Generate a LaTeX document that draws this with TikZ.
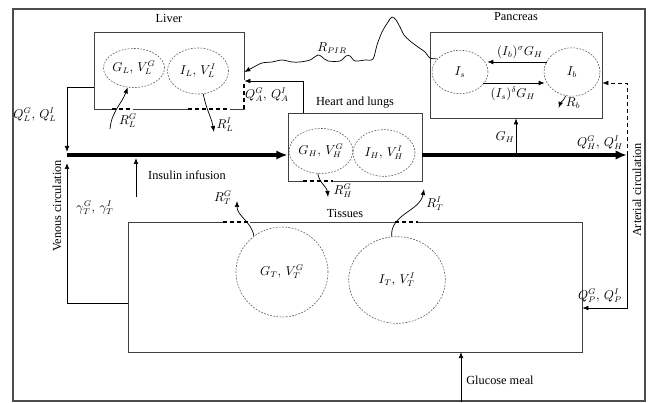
\documentclass[tikz,border=0pt]{standalone}
\usepackage{fontspec}
\setmainfont{Liberation Serif}
\usetikzlibrary{arrows.meta, positioning, calc, fit, shapes.geometric}
\tikzset{
  comp/.style={draw=black!75, line width=0.6pt, inner sep=0pt},
  pool/.style={ellipse, draw=black!65, dash pattern=on 1.5pt off 1.2pt, line width=0.5pt, inner sep=0pt, align=center},
  arr/.style={-{Latex[length=1.8mm, width=1.4mm]}, line width=0.6pt},
  flow/.style={-{Latex[length=3.4mm, width=2.8mm]}, line width=3pt},
  gap/.style={draw=white, line width=1.8pt},
  port/.style={dash pattern=on 3.5pt off 2.5pt, line width=1.3pt},
  lbl/.style={inner sep=1pt},
}

\begin{document}
\begin{tikzpicture}[x=0.03cm, y=-0.03cm, font=\fontsize{10.5}{12}\selectfont]
    \useasboundingbox (0,0) rectangle (651,403);
    % outer frame
    \node[draw=black!70, line width=2pt, inner sep=0pt, fit={(13,9) (645,401)}] (frame) {};

    % compartments
    \node[comp, fit={(94,32) (244,109)}] (liver) {};
    \node[comp, fit={(288,113) (422,181)}] (heart) {};
    \node[comp, fit={(430,32) (602,118)}] (pancreas) {};
    \node[comp, fit={(128,222) (582,352)}] (tissues) {};
    \node[lbl, above=0.22cm of liver] (liverlbl) {Liver};
    \node[lbl, above=0.08cm of heart] (heartlbl) {Heart and lungs};
    \node[lbl, above=0.3cm of pancreas] (panclbl) {Pancreas};
    \node[lbl] (tisslbl) at (345,213) {Tissues};

    % pools
    \node[pool, minimum width=1.65cm, minimum height=1.17cm] (gl) at (134,68) {$G_L,\,V_L^G$};
    \node[pool, minimum width=1.83cm, minimum height=1.38cm] (il) at (198,71) {$I_L,\,V_L^I$};
    \node[pool, minimum width=1.68cm, minimum height=1.35cm] (gh) at (321,151) {$G_H,\,V_H^G$};
    \node[pool, minimum width=1.86cm, minimum height=1.4cm] (ih) at (384,153) {$I_H,\,V_H^I$};
    \node[pool, minimum width=1.68cm, minimum height=1.3cm] (is) at (460,72) {$I_s$};
    \node[pool, minimum width=1.68cm, minimum height=1.45cm] (ib) at (572,72) {$I_b$};
    \node[pool, minimum width=2.76cm, minimum height=2.7cm] (gt) at (282,272) {$G_T,\,V_T^G$};
    \node[pool, minimum width=2.9cm, minimum height=2.6cm] (it) at (397,280) {$I_T,\,V_T^I$};

    % membrane ports
    \draw[gap] (112,109) -- (133,109);
    \draw[port] (112,109) -- (133,109);
    \draw[gap] (188,109) -- (230,109);
    \draw[port] (188,109) -- (230,109);
    \draw[gap] (244,80) -- (244,109);
    \draw[port] (244,84) -- (244,109);
    \draw[gap] (303,181) -- (333,181);
    \draw[port] (303,181) -- (333,181);
    \draw[gap] (223,222) -- (250,222);
    \draw[port] (223,222) -- (250,222);
    \draw[gap] (395,222) -- (418,222);
    \draw[port] (395,222) -- (418,222);

    % circulation points
    \coordinate (vtop) at (67,87);
    \coordinate (vj) at (67,155);
    \coordinate (vin) at (67,163);
    \coordinate (vbot) at (67,303);
    \coordinate (aj) at (627,155);
    \coordinate (atop) at (627,83);
    \coordinate (abot) at (627,308);
    \coordinate (qa) at (303,81);
    \coordinate (ins) at (136,197);
    \coordinate (ghp) at (516,155);
    \coordinate (gm) at (461,352);

    % main flow
    \draw[flow] (vj) -- (heart.west |- vj);
    \draw[flow] (heart.east |- vj) -- (aj);

    % venous side
    \draw[arr] (liver.west |- vtop) -- (vtop) -- ($(vj)+(0,-3)$);
    \draw[arr] (tissues.west |- vbot) -- (vbot) -- (vin);
    \draw[arr] (ins) -- ($(ins |- vj)+(0,3)$);
    \draw[arr] (qa |- heart.north) -- (qa) -- (liver.east |- qa);

    % arterial side
    \draw[arr, dashed] (aj) -- (atop) -- (pancreas.east |- atop);
    \draw[arr] (aj) -- (abot) -- (tissues.east |- abot);
    \draw[arr] (ghp) -- (ghp |- pancreas.south);
    \draw[arr] (frame.south -| gm) -- (gm);

    % pancreas
    \draw[arr] ($(ib.west)+(3,-10)$) -- ($(is.east)+(-1,-10)$);
    \draw[arr] ($(is.east)+(-5,11)$) -- ($(ib.west)+(1,11)$);
    \draw[arr] (ib.255) to[out=-110, in=70] ++(-7,12);

    % hepatic insulin path
    \draw[arr] plot[smooth, tension=0.5] coordinates {(is.150) (430,58) (425,52) (418,47) (410,41) (404,35)
      (400,27) (396,20) (392,17) (388,22) (382,32) (377,45) (373,59) (365,60) (355,61) (350,56) (346,56)
      (340,61) (328,61) (322,57) (318,55) (310,60) (300,62) (292,62) (282,60) (272,62) (262,63) (252,68)
      (liver.east |- 0,72)};

    % removals
    \draw[arr] (110,129) to[out=85, in=-110] (gl.252);
    \draw[arr] (il.283) to[out=-80, in=100] (214,132);
    \draw[arr] (gh.262) to[out=-80, in=95] (328,197);
    \draw[arr] (gt.128) to[out=100, in=-90] (237,201);
    \draw[arr] (it.97) to[out=95, in=-100] (424,189);

    % labels
    \node[lbl] (qllbl) at (35,115) {$Q_L^G,\,Q_L^I$};
    \node[lbl] (qalbl) at (267,95) {$Q_A^G,\,Q_A^I$};
    \node[lbl] (rlglbl) at (128,121) {$R_L^G$};
    \node[lbl] (rlilbl) at (225,125) {$R_L^I$};
    \node[lbl] (rpirlbl) at (332,48) {$R_{PIR}$};
    \node[lbl] (siglbl) at (520,52) {$(I_b)^{\sigma}G_H$};
    \node[lbl] (dellbl) at (513,94) {$(I_s)^{\delta}G_H$};
    \node[lbl] (rblbl) at (573,103) {$R_b$};
    \node[lbl] (ghlbl) at (505,137) {$G_H$};
    \node[lbl] (qhlbl) at (600,143) {$Q_H^G,\,Q_H^I$};
    \node[lbl] (inslbl) at (187,175) {Insulin infusion};
    \node[lbl] (rhglbl) at (343,191) {$R_H^G$};
    \node[lbl] (gamlbl) at (95,208) {$\gamma_T^G,\,\gamma_T^I$};
    \node[lbl] (rtglbl) at (223,198) {$R_T^G$};
    \node[lbl] (rtilbl) at (435,204) {$R_T^I$};
    \node[lbl] (qplbl) at (600,296) {$Q_P^G,\,Q_P^I$};
    \node[lbl] (gmlbl) at (500,380) {Glucose meal};
    \node[lbl, rotate=90] (venlbl) at (57,206) {Venous circulation};
    \node[lbl, rotate=90] (artlbl) at (637,190) {Arterial circulation};
\end{tikzpicture}
\end{document}
